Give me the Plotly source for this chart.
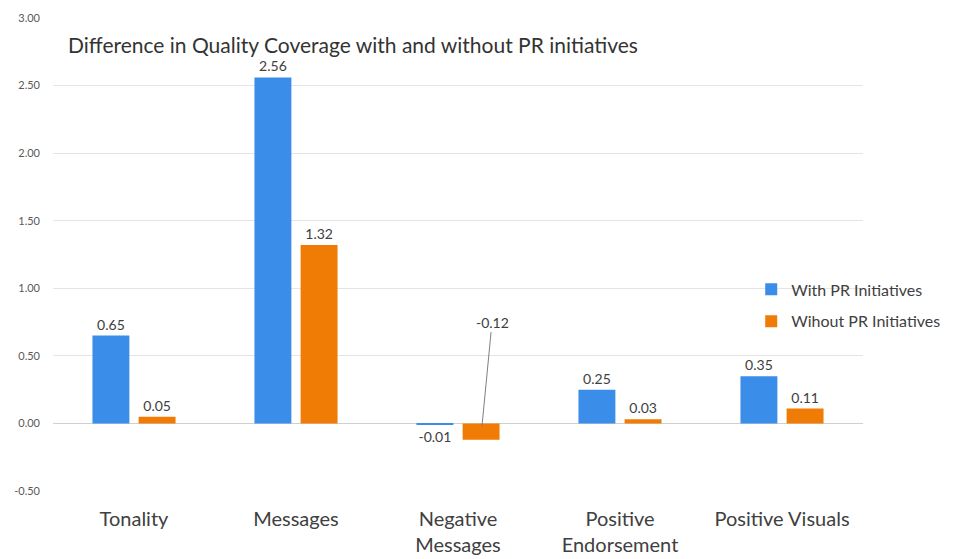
import plotly.graph_objects as go

categories = ["Tonality", "Messages", "Negative<br>Messages", "Positive<br>Endorsement", "Positive Visuals"]
with_pr = [0.65, 2.56, -0.01, 0.25, 0.35]
without_pr = [0.05, 1.32, -0.12, 0.03, 0.11]
series_names = ["With PR Initiatives", "Wihout PR Initiatives"]
tick_vals = [-0.5, 0.0, 0.5, 1.0, 1.5, 2.0, 2.5, 3.0]
tick_text = [f"{v:.2f}" for v in tick_vals]

BLUE = "#3a8de8"
ORANGE = "#f07b05"
FONT = "Lato, Open Sans, sans-serif"

# the orange label in the negative category is placed with a leader line instead
callout_idx = 2
without_text = [f"{v:.2f}" if i != callout_idx else "" for i, v in enumerate(without_pr)]
with_text = [f"{v:.2f}" for v in with_pr]

fig = go.Figure()
fig.add_trace(go.Bar(
    x=list(range(len(categories))), y=with_pr, name=series_names[0],
    marker=dict(color=BLUE, line=dict(width=0)),
    text=with_text, textposition="outside", cliponaxis=False,
    textfont=dict(size=14, color="#404040", family=FONT),
    legendgroup="a",
))
fig.add_trace(go.Bar(
    x=list(range(len(categories))), y=without_pr, name=series_names[1],
    marker=dict(color=ORANGE, line=dict(width=0)),
    text=without_text, textposition="outside", cliponaxis=False,
    textfont=dict(size=14, color="#404040", family=FONT),
    legendgroup="b",
))

fig.add_annotation(
    x=callout_idx + 0.148, y=without_pr[callout_idx] + 0.1,
    ax=callout_idx + 0.21, ay=0.75, axref="x", ayref="y",
    xref="x", yref="y",
    text=f"{without_pr[callout_idx]:.2f}", showarrow=True,
    arrowhead=0, arrowwidth=1, arrowcolor="#7f7f7f",
    font=dict(size=14, color="#404040", family=FONT),
)

fig.update_layout(
    width=954, height=559,
    margin=dict(l=53, r=91, t=18, b=68, autoexpand=False),
    paper_bgcolor="white", plot_bgcolor="white",
    barmode="group", bargap=0.43, bargroupgap=0.2,
    font=dict(family=FONT, color="#404040"),
    title=dict(
        text="Difference in Quality Coverage with and without PR initiatives",
        x=0.0185, xref="paper", xanchor="left",
        y=1 - 46 / 559, yref="container", yanchor="middle",
        font=dict(size=21, color="#333333", family=FONT),
    ),
    legend=dict(
        x=0.862, y=0.462, xanchor="left", yanchor="top",
        font=dict(size=16, color="#404040", family=FONT),
        traceorder="grouped", tracegroupgap=8,
        bgcolor="rgba(0,0,0,0)",
    ),
    xaxis=dict(
        tickmode="array", tickvals=list(range(len(categories))), ticktext=categories,
        range=[-0.5, len(categories) - 0.5],
        showgrid=False, zeroline=False, showline=False, ticks="",
        ticklabelstandoff=14, automargin=False,
        tickfont=dict(size=20, color="#404040", family=FONT),
    ),
    yaxis=dict(
        range=[-0.5, 3.0], tickmode="array", tickvals=tick_vals, ticktext=tick_text,
        showgrid=True, gridcolor="#e4e4e4", gridwidth=1,
        zeroline=True, zerolinecolor="#d0d0d0", zerolinewidth=1,
        showline=False, ticks="", ticklabelstandoff=12, automargin=False,
        tickfont=dict(size=11, color="#595959", family=FONT),
    ),
)

fig.write_html("out.html")
